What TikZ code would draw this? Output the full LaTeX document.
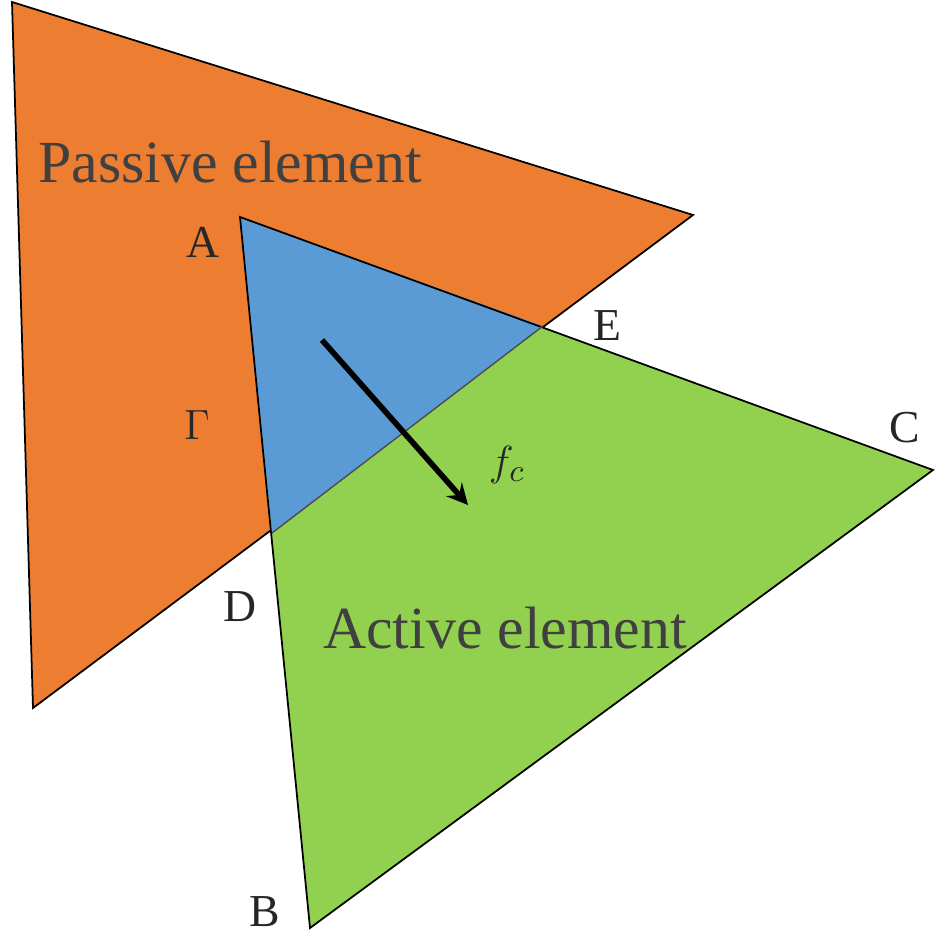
\documentclass[tikz,border=0pt]{standalone}
\usepackage{fontspec}
\setmainfont{Liberation Serif}
\definecolor{orng}{RGB}{237,125,49}
\definecolor{grn}{RGB}{146,208,80}
\definecolor{blu}{RGB}{91,155,213}
\begin{document}
\begin{tikzpicture}[x=0.01cm,y=-0.01cm,
  lbl/.style={font=\fontsize{13pt}{15pt}\selectfont, text=black!85},
  big/.style={font=\fontsize{17pt}{20pt}\selectfont, text=black!75}]
\useasboundingbox (0,0) rectangle (945,945);
\coordinate (P1) at (12,2);
\coordinate (P2) at (693,215);
\coordinate (P3) at (33,708);
\coordinate (A) at (240,217);
\coordinate (C) at (933,470);
\coordinate (B) at (310,928);
\coordinate (E) at (543,326);
\coordinate (G) at (272,533);
\fill[orng] (P1) -- (P2) -- (P3) -- cycle;
\draw[black, line width=0.5pt] (P1) -- (P2) -- (P3) -- cycle;
\fill[grn] (A) -- (C) -- (B) -- cycle;
\fill[blu] (A) -- (E) -- (G) -- cycle;
\draw[black, line width=0.5pt] (A) -- (C) -- (B) -- cycle;
\draw[black!70, line width=0.4pt] (E) -- (G);
\coordinate (f1) at (322,340);
\coordinate (f2) at (468,505);
\draw[-stealth, line width=1.6pt] (f1) -- (f2);
\node[big] (pas) at (230,162) {Passive element};
\node[big] (act) at (505,628) {Active element};
\node[lbl] (la) at (203,242) {A};
\node[lbl] (le) at (607,326) {E};
\node[lbl] (lc) at (905,428) {C};
\node[lbl] (lg) at (197,425) {$\Gamma$};
\node[lbl] (ld) at (240,607) {D};
\node[lbl] (lb) at (265,912) {B};
\node[lbl] (lf) at (507,465) {$f_c$};
\end{tikzpicture}
\end{document}
